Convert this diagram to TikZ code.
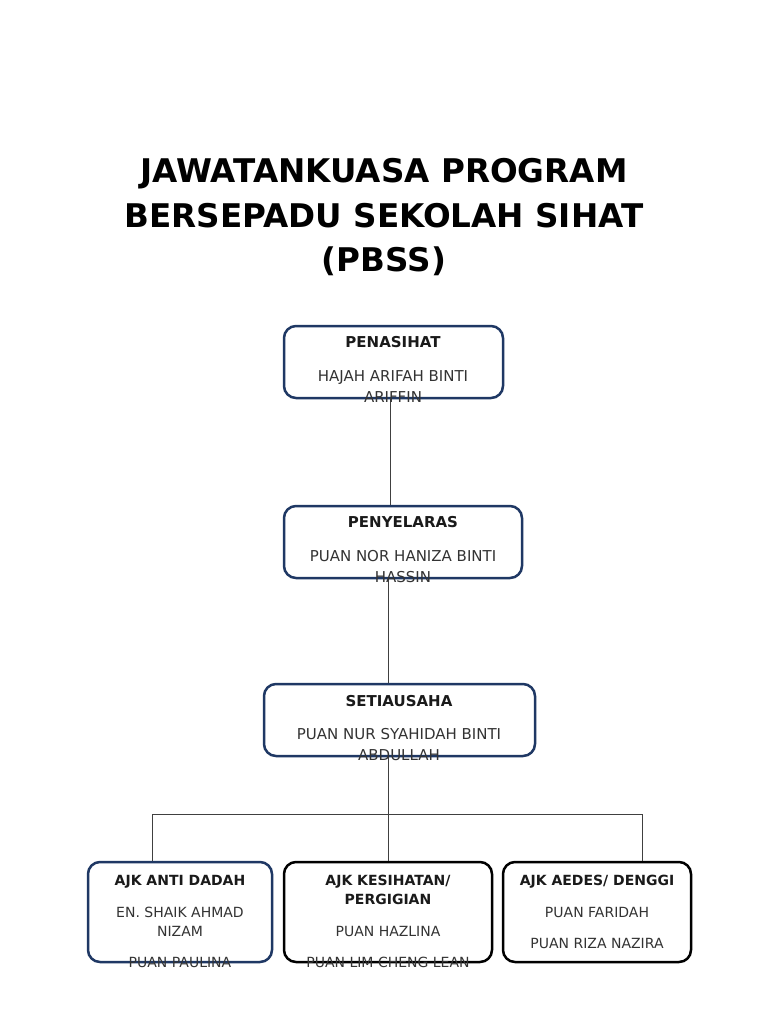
\documentclass[tikz,border=0pt]{standalone}
\usepackage{fontspec}
\setmainfont{DejaVu Sans}
\definecolor{navy}{HTML}{1F3864}
\definecolor{linegray}{HTML}{404040}
\definecolor{namegray}{HTML}{333333}
\definecolor{rolecol}{HTML}{1A1A1A}
\begin{document}
\begin{tikzpicture}[x=1pt,y=-1pt,
  box/.style={draw=navy, line width=2.5pt, rounded corners=12pt, fill=white, inner sep=0pt},
  blackbox/.style={box, draw=black},
  conn/.style={draw=linegray, line width=1pt},
  ttl/.style={anchor=base, inner sep=0pt, font=\fontsize{32.6}{44}\selectfont\bfseries, text=black},
  role/.style={anchor=base, inner sep=0pt, font=\fontsize{15}{21}\selectfont\bfseries, text=rolecol},
  nm/.style={anchor=base, inner sep=0pt, font=\fontsize{15}{21}\selectfont, text=namegray},
  roles/.style={anchor=base, inner sep=0pt, font=\fontsize{14}{19}\selectfont\bfseries, text=rolecol},
  nms/.style={anchor=base, inner sep=0pt, font=\fontsize{14}{19}\selectfont, text=namegray}]
\useasboundingbox (0,0) rectangle (768,1024);
\fill[white] (0,0) rectangle (768,1024);

% title
\node[ttl] (t1) at (384,183) {JAWATANKUASA PROGRAM};
\node[ttl] (t2) at (384,227) {BERSEPADU SEKOLAH SIHAT};
\node[ttl] (t3) at (384,271) {(PBSS)};

% boxes
\node[box, minimum width=219pt, minimum height=72pt] (pen) at (393.5,362) {};
\node[box, minimum width=238pt, minimum height=72pt] (pel) at (403,542) {};
\node[box, minimum width=271pt, minimum height=72pt] (set) at (399.5,720) {};
\node[box, minimum width=184pt, minimum height=100pt] (ajka) at (180,912) {};
\node[blackbox, minimum width=208pt, minimum height=100pt] (ajkb) at (388,912) {};
\node[blackbox, minimum width=188pt, minimum height=100pt] (ajkc) at (597,912) {};

% connectors
\coordinate (hl) at (152,814);
\coordinate (hr) at (642,814);
\draw[conn] (390,0 |- pen.south) -- (390,0 |- pel.north);
\draw[conn] (388,0 |- pel.south) -- (388,0 |- set.north);
\draw[conn] (388,0 |- set.south) -- (ajkb.north);
\draw[conn] (hl) -- (hr);
\draw[conn] (hl) -- (152,0 |- ajka.north);
\draw[conn] (hr) -- (642,0 |- ajkc.north);

% texts
\node[role] (r1) at (393,347.5) {PENASIHAT};
\node[nm] (n1a) at (393,381.5) {HAJAH ARIFAH BINTI};
\node[nm] (n1b) at (393,402.5) {ARIFFIN};

\node[role] (r2) at (403,527.5) {PENYELARAS};
\node[nm] (n2a) at (403,561.5) {PUAN NOR HANIZA BINTI};
\node[nm] (n2b) at (403,582.5) {HASSIN};

\node[role] (r3) at (399,706.5) {SETIAUSAHA};
\node[nm] (n3a) at (399,739.5) {PUAN NUR SYAHIDAH BINTI};
\node[nm] (n3b) at (399,760.5) {ABDULLAH};

\node[roles] (ra) at (180,885) {AJK ANTI DADAH};
\node[nms] (na1) at (180,917) {EN. SHAIK AHMAD};
\node[nms] (na2) at (180,936) {NIZAM};
\node[nms] (na3) at (180,967) {PUAN PAULINA};

\node[roles] (rb1) at (388,885) {AJK KESIHATAN/};
\node[roles] (rb2) at (388,904) {PERGIGIAN};
\node[nms] (nb1) at (388,936) {PUAN HAZLINA};
\node[nms] (nb2) at (388,967) {PUAN LIM CHENG LEAN};

\node[roles] (rc) at (597,885) {AJK AEDES/ DENGGI};
\node[nms] (nc1) at (597,917) {PUAN FARIDAH};
\node[nms] (nc2) at (597,948) {PUAN RIZA NAZIRA};
\end{tikzpicture}
\end{document}
